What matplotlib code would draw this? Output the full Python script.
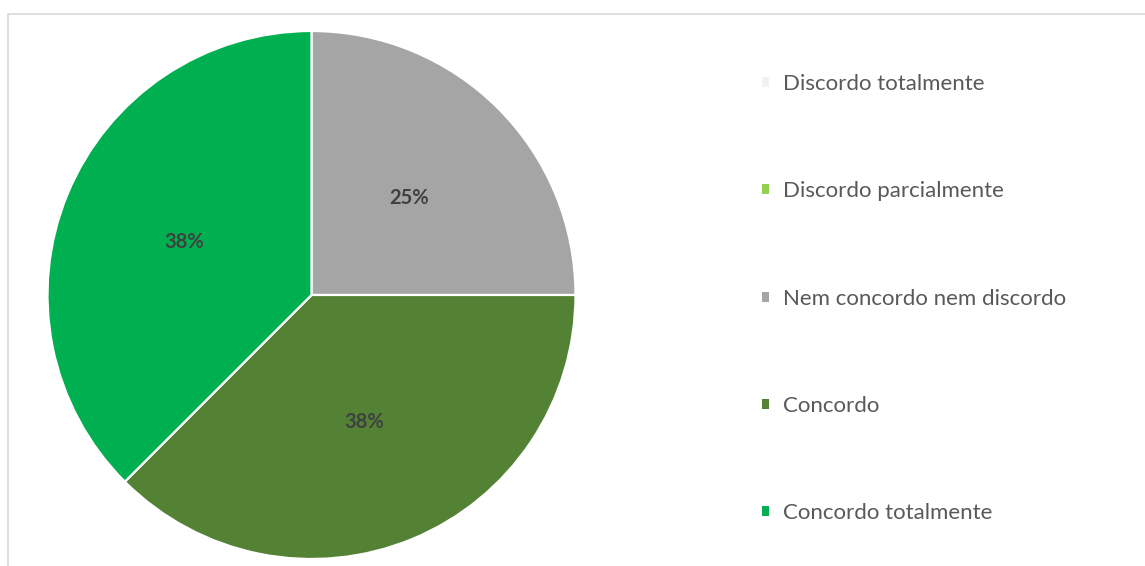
import matplotlib.pyplot as plt
from matplotlib.patches import Rectangle, Patch

categorias = ["Discordo totalmente", "Discordo parcialmente",
              "Nem concordo nem discordo", "Concordo", "Concordo totalmente"]
valores = [0, 0, 25, 37.5, 37.5]
cores = ["#F2F2F2", "#92D050", "#A5A5A5", "#548235", "#00B050"]

W, H = 1145, 566
fig = plt.figure(figsize=(W / 100, H / 100), dpi=100)

# frame around the chart area (right and bottom edges run off the picture)
fig.patches.append(Rectangle((8 / W, -0.2), 1.2, 1.2 - 14 / H, transform=fig.transFigure,
                             fill=False, edgecolor="#D9D9D9", linewidth=1.2))

cx, cy, r = 311.5, 295, 264
ax = fig.add_axes([(cx - r) / W, (H - cy - r) / H, 2 * r / W, 2 * r / H])


def pct(p):
    return "" if p == 0 else f"{round(p):.0f}%"


wedges, _, autotexts = ax.pie(valores, colors=cores, startangle=90, counterclock=False,
                              radius=1, autopct=pct, pctdistance=0.52,
                              wedgeprops=dict(edgecolor="white", linewidth=1.6),
                              textprops=dict(color="#404040", fontsize=14.5,
                                             fontweight="bold", family="Lato"))
ax.set_xlim(-1, 1)
ax.set_ylim(-1, 1)
ax.set_aspect("equal")

handles = [Patch(facecolor=c, edgecolor="none") for c in cores]
fig.legend(handles, categorias, loc="upper left", bbox_to_anchor=(762 / W, 1 - 74 / H),
           frameon=False, borderpad=0, borderaxespad=0,
           handlelength=0.32, handleheight=0.32, handletextpad=0.63,
           labelspacing=3.93, prop=dict(family="Lato", size=16),
           labelcolor="#595959")

fig.savefig("out.png", dpi=100)
